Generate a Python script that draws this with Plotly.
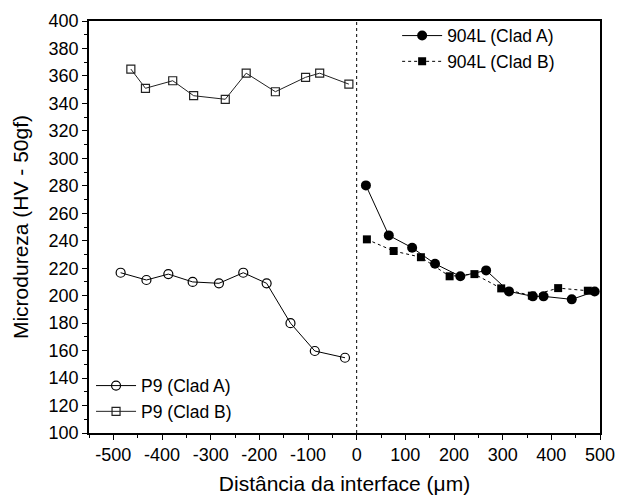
import plotly.graph_objects as go

# P9 (Clad A)
p9a_x = [-485, -432, -387, -337, -283, -233, -185, -136, -86, -24]
p9a_y = [216.7, 211.4, 215.7, 210, 209, 216.7, 209, 180, 159.7, 154.8]
# P9 (Clad B)
p9b_x = [-464, -434, -378, -335, -270, -227, -167, -105, -76, -16]
p9b_y = [365, 351, 356.5, 345.6, 343, 362, 348.5, 359, 362, 354]
# 904L (Clad A)
l904a_x = [19, 66, 114, 161, 213, 266, 313, 362, 384, 442, 489]
l904a_y = [280.3, 243.9, 234.9, 223.2, 214.1, 218.4, 203.1, 199.5, 199.5, 197.3, 203]
# 904L (Clad B)
l904b_x = [21, 76, 132, 191, 242, 297, 360, 414, 475]
l904b_y = [241, 232.5, 228, 214.1, 215.7, 205.3, 200, 205.5, 203.6]

x_tickvals = [-500, -400, -300, -200, -100, 0, 100, 200, 300, 400, 500]
x_ticktext = ["-500", "-400", "-300", "-200", "-100", "0", "100", "200", "300", "400", "500"]
y_tickvals = list(range(100, 401, 20))

FONT = "Liberation Sans, Arial, sans-serif"

fig = go.Figure()
fig.add_trace(go.Scatter(x=l904a_x, y=l904a_y, name="904L (Clad A)", mode="lines+markers",
                         line=dict(color="black", width=1),
                         marker=dict(symbol="circle", size=10, color="black"),
                         legend="legend"))
fig.add_trace(go.Scatter(x=l904b_x, y=l904b_y, name="904L (Clad B)", mode="lines+markers",
                         line=dict(color="black", width=1, dash="dot"),
                         marker=dict(symbol="square", size=8, color="black"),
                         legend="legend"))
fig.add_trace(go.Scatter(x=p9a_x, y=p9a_y, name="P9 (Clad A)", mode="lines+markers",
                         line=dict(color="black", width=1),
                         marker=dict(symbol="circle-open", size=9, color="black", line=dict(width=1.2)),
                         legend="legend2"))
fig.add_trace(go.Scatter(x=p9b_x, y=p9b_y, name="P9 (Clad B)", mode="lines+markers",
                         line=dict(color="#222", width=1),
                         marker=dict(symbol="square-open", size=8, color="#222", line=dict(width=1.2)),
                         legend="legend2"))

fig.add_vline(x=0, line=dict(color="black", width=1, dash="dot"))

axis_common = dict(showline=True, linecolor="black", linewidth=1.5, mirror=True,
                   ticks="outside", ticklen=5, tickwidth=1.2, tickcolor="black",
                   showgrid=False, zeroline=False,
                   tickfont=dict(family=FONT, size=18, color="black"))

fig.update_xaxes(range=[-550, 500], tickvals=x_tickvals, ticktext=x_ticktext,
                 minor=dict(ticks="outside", ticklen=3, tickwidth=1.2, tickcolor="black", dtick=50, tick0=0),
                 title=dict(text="Distância da interface (μm)", font=dict(family=FONT, size=21, color="black"),
                            standoff=12),
                 **axis_common)
fig.update_yaxes(range=[100, 400], tickvals=y_tickvals,
                 minor=dict(ticks="outside", ticklen=3, tickwidth=1.2, tickcolor="black", dtick=10, tick0=0),
                 title=dict(text="Microdureza (HV - 50gf)", font=dict(family=FONT, size=21, color="black"),
                            standoff=14),
                 **axis_common)

fig.update_layout(
    width=617, height=500,
    margin=dict(l=89, r=17, t=21, b=67, autoexpand=False),
    plot_bgcolor="white", paper_bgcolor="white",
    font=dict(family=FONT, size=17.5, color="black"),
    legend=dict(x=0.603, y=1.008, xanchor="left", yanchor="top", bgcolor="rgba(0,0,0,0)",
                font=dict(family=FONT, size=17.5), itemwidth=40, tracegroupgap=0),
    legend2=dict(x=0.004, y=0.008, xanchor="left", yanchor="bottom", bgcolor="rgba(0,0,0,0)",
                 font=dict(family=FONT, size=17.5), itemwidth=40, tracegroupgap=0),
)

fig.write_html("out.html", config={"displayModeBar": False},
               post_script="document.body.style.margin='0';document.body.style.overflow='hidden';")
